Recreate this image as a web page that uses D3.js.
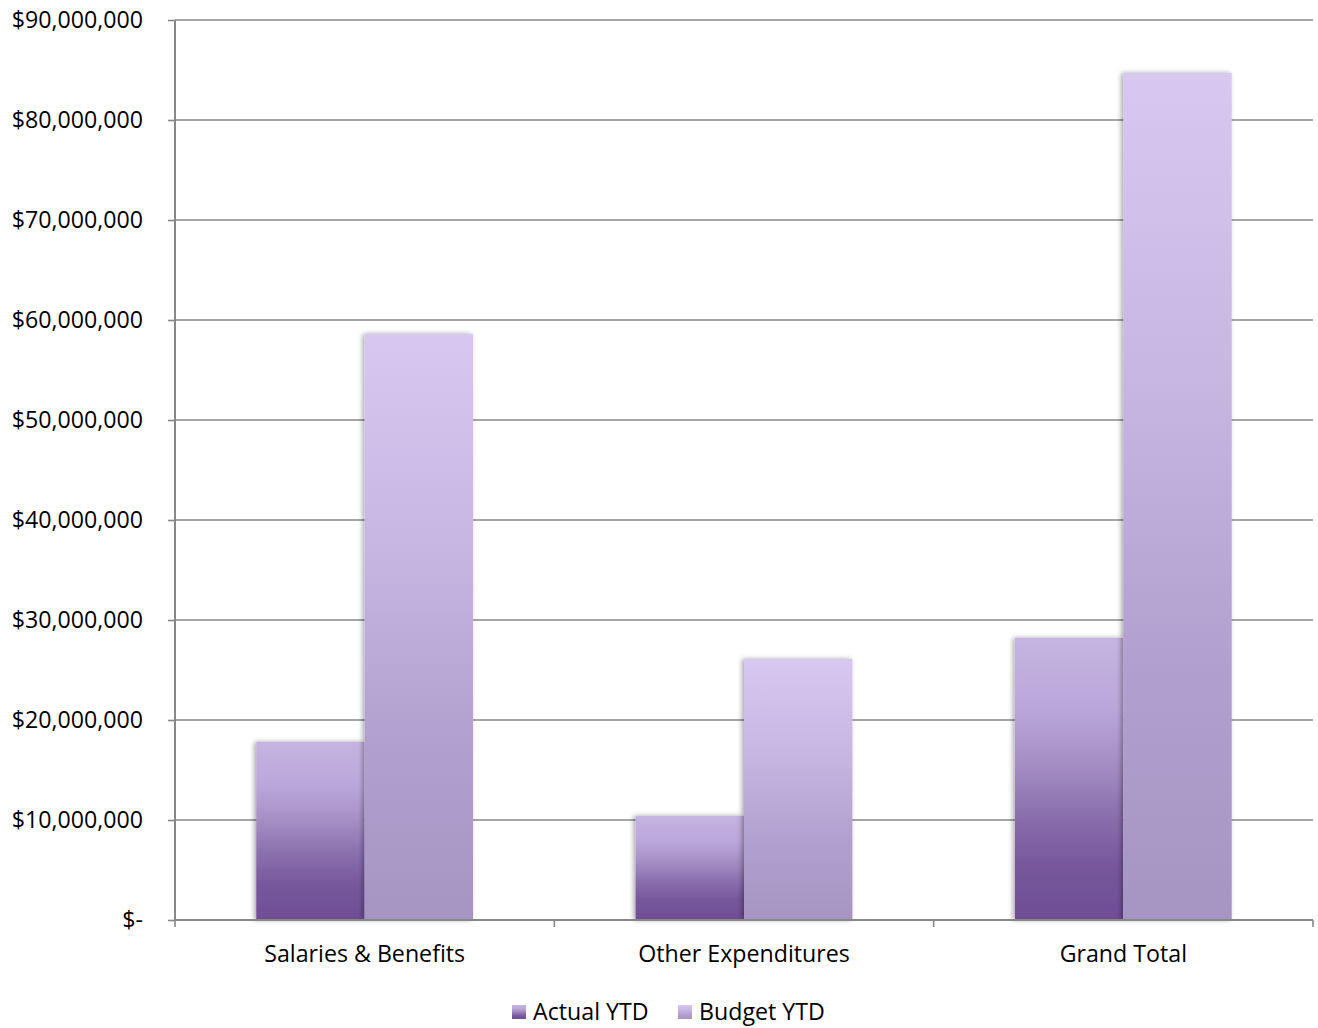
<!DOCTYPE html>
<html>
<head>
<meta charset="utf-8">
<script src="https://cdn.jsdelivr.net/npm/d3@7"></script>
<style>
  html, body { margin: 0; padding: 0; background: #fff; }
  svg { display: block; font-family: "Open Sans", sans-serif; }
</style>
</head>
<body>
<svg id="chart" width="1318" height="1028"></svg>
<script>
// Year-to-date spending versus budget
const categories = ["Salaries & Benefits", "Other Expenditures", "Grand Total"];
const seriesNames = ["Actual YTD", "Budget YTD"];
const actualYTD = [17800000, 10400000, 28200000];
const budgetYTD = [58600000, 26100000, 84700000];
const yTicks = [0, 10000000, 20000000, 30000000, 40000000, 50000000, 60000000, 70000000, 80000000, 90000000];

const rows = categories.map((c, i) => ({ category: c, values: [actualYTD[i], budgetYTD[i]] }));

const svg = d3.select("#chart");
const margin = { left: 175, right: 5, top: 20, bottom: 108 };
const W = 1318, H = 1028;
const plotW = W - margin.left - margin.right;
const plotH = H - margin.top - margin.bottom;
const fontSize = 23.2;

const defs = svg.append("defs");

// Vertical gradients, one per series, stretched over each bar
const gradStops = [
  [["0%", "#c5b4e1"], ["25%", "#bba6d9"], ["45%", "#a48dc3"], ["62%", "#8b70ae"], ["80%", "#77589c"], ["100%", "#6e4d95"]],
  [["0%", "#d7c8f0"], ["35%", "#c8b6e3"], ["70%", "#b1a0cf"], ["100%", "#a694c3"]]
];
gradStops.forEach((stops, k) => {
  const g = defs.append("linearGradient").attr("id", "grad" + k)
    .attr("x1", 0).attr("y1", 0).attr("x2", 0).attr("y2", 1);
  stops.forEach(s => g.append("stop").attr("offset", s[0]).attr("stop-color", s[1]));
});

const shadow = defs.append("filter").attr("id", "shadow")
  .attr("x", "-20%").attr("y", "-5%").attr("width", "140%").attr("height", "110%");
shadow.append("feDropShadow").attr("dx", -2).attr("dy", 0).attr("stdDeviation", 2.5)
  .attr("flood-color", "#000").attr("flood-opacity", 0.35);

const g = svg.append("g").attr("transform", `translate(${margin.left},${margin.top})`);

const x0 = d3.scaleBand().domain(categories).range([0, plotW]).paddingInner(0).paddingOuter(0);
const bandW = x0.bandwidth();
// gap between groups equals 150% of a single bar
const barW = bandW / 3.5;
const x1 = d3.scaleBand().domain([0, 1]).range([0.75 * barW, 0.75 * barW + 2 * barW]);
const y = d3.scaleLinear().domain([0, 90000000]).range([plotH, 0]);

// gridlines
g.append("g").selectAll("line").data(yTicks.filter(t => t > 0)).join("line")
  .attr("x1", 0).attr("x2", plotW)
  .attr("y1", d => y(d)).attr("y2", d => y(d))
  .attr("stroke", "#878787").attr("stroke-width", 1.6);

// bars
const groups = g.append("g").selectAll("g").data(rows).join("g")
  .attr("transform", d => `translate(${x0(d.category)},0)`);
groups.selectAll("rect").data(d => d.values.map((v, k) => ({ v, k }))).join("rect")
  .attr("x", d => x1(d.k))
  .attr("width", x1.bandwidth())
  .attr("y", d => y(d.v))
  .attr("height", d => plotH - y(d.v))
  .attr("fill", d => `url(#grad${d.k})`)
  .attr("filter", "url(#shadow)");

// y axis
const yAxis = d3.axisLeft(y).tickValues(yTicks).tickSize(7).tickPadding(25)
  .tickFormat(d => d === 0 ? "$-" : d3.format("$,")(d));
const ya = g.append("g").call(yAxis);
ya.select(".domain").attr("stroke", "#878787").attr("stroke-width", 2).attr("d", `M0,0V${plotH}`);
ya.selectAll(".tick line").attr("stroke", "#878787").attr("stroke-width", 1.6);
ya.selectAll(".tick text").attr("font-size", fontSize).attr("fill", "#000")
  .attr("font-family", "'Open Sans', sans-serif");

// x axis with tick marks at category boundaries
const xa = g.append("g").attr("transform", `translate(0,${plotH})`);
xa.append("line").attr("x1", 0).attr("x2", plotW).attr("stroke", "#878787").attr("stroke-width", 2);
const bounds = categories.map(c => x0(c)).concat([plotW]);
xa.selectAll("line.tk").data(bounds).join("line").attr("class", "tk")
  .attr("x1", d => d).attr("x2", d => d).attr("y1", 0).attr("y2", 7)
  .attr("stroke", "#878787").attr("stroke-width", 1.6);
xa.selectAll("text").data(categories).join("text")
  .attr("x", d => x0(d) + bandW / 2).attr("y", 42)
  .attr("text-anchor", "middle").attr("font-size", fontSize).attr("fill", "#000")
  .text(d => d);

// legend
const legend = svg.append("g").attr("transform", "translate(512,1005)");
const legendX = [0, 166];
seriesNames.forEach((name, k) => {
  const lg = legend.append("g").attr("transform", `translate(${legendX[k]},0)`);
  lg.append("rect").attr("width", 14).attr("height", 14).attr("fill", `url(#grad${k})`);
  lg.append("text").attr("x", 21).attr("y", 15).attr("font-size", fontSize).attr("fill", "#000").text(name);
});
</script>
</body>
</html>
